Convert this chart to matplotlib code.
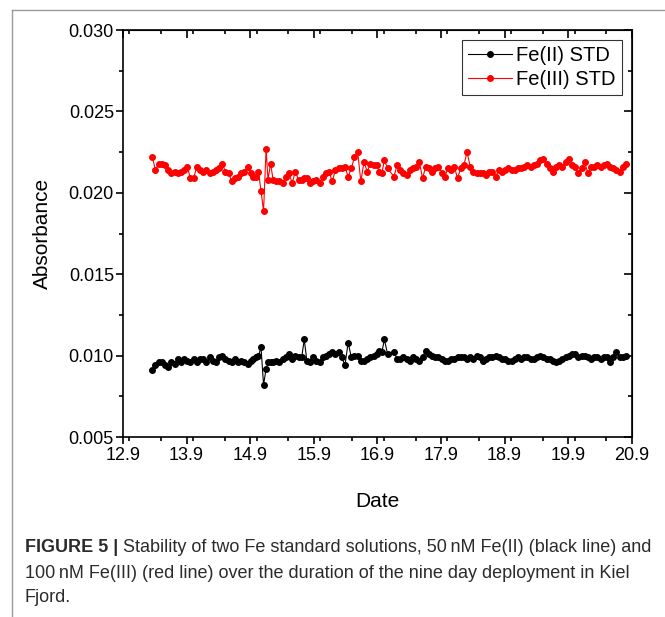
import matplotlib.pyplot as plt
from matplotlib.lines import Line2D
from matplotlib.ticker import MultipleLocator, FormatStrFormatter
from matplotlib.transforms import offset_copy

plt.rcParams['font.family'] = ['Liberation Sans', 'DejaVu Sans']

# dias de medicao (eixo x)
dates = [13.36, 13.41, 13.46, 13.51, 13.56, 13.61, 13.66, 13.71, 13.76, 13.81,
         13.86, 13.91, 13.96, 14.01, 14.06, 14.11, 14.16, 14.21, 14.26, 14.31,
         14.36, 14.41, 14.46, 14.51, 14.56, 14.61, 14.66, 14.71, 14.76, 14.81,
         14.86, 14.91, 14.95, 14.99, 15.03, 15.07, 15.11, 15.15, 15.18, 15.22,
         15.26, 15.31, 15.36, 15.41, 15.46, 15.51, 15.56, 15.61, 15.66, 15.71,
         15.75, 15.79, 15.84, 15.89, 15.94, 15.99, 16.04, 16.09, 16.14, 16.19,
         16.24, 16.29, 16.34, 16.39, 16.44, 16.49, 16.54, 16.59, 16.64, 16.69,
         16.74, 16.79, 16.84, 16.89, 16.93, 16.97, 17.01, 17.06, 17.16, 17.21,
         17.26, 17.31, 17.36, 17.41, 17.46, 17.51, 17.56, 17.61, 17.66, 17.71,
         17.76, 17.81, 17.86, 17.91, 17.96, 18.01, 18.06, 18.11, 18.16, 18.21,
         18.26, 18.31, 18.36, 18.41, 18.46, 18.51, 18.56, 18.61, 18.66, 18.71,
         18.76, 18.81, 18.86, 18.91, 18.96, 19.01, 19.06, 19.11, 19.16, 19.21,
         19.26, 19.31, 19.36, 19.41, 19.46, 19.51, 19.56, 19.61, 19.66, 19.71,
         19.76, 19.81, 19.86, 19.91, 19.96, 20.01, 20.06, 20.11, 20.16, 20.21,
         20.26, 20.31, 20.36, 20.41, 20.46, 20.51, 20.56, 20.61, 20.66, 20.71,
         20.76, 20.81]

# Fe(II) STD - 50 nM
fe2 = [0.0091, 0.0094, 0.0096, 0.0096, 0.0094, 0.0093, 0.0096, 0.0095, 0.0098, 0.0096,
       0.0098, 0.0097, 0.0096, 0.0098, 0.0096, 0.0098, 0.0098, 0.0096, 0.0099, 0.0097,
       0.0096, 0.0099, 0.0100, 0.0098, 0.0097, 0.0096, 0.0098, 0.0096, 0.0097, 0.0096,
       0.0095, 0.0097, 0.0098, 0.0099, 0.0100, 0.0105, 0.0082, 0.0092, 0.0096, 0.0096,
       0.0096, 0.0097, 0.0096, 0.0098, 0.0099, 0.0101, 0.0098, 0.0100, 0.0099, 0.0099,
       0.0110, 0.0097, 0.0096, 0.0099, 0.0097, 0.0096, 0.0099, 0.0100, 0.0101, 0.0102,
       0.0101, 0.0102, 0.0099, 0.0094, 0.0108, 0.0099, 0.0100, 0.0100, 0.0097, 0.0097,
       0.0098, 0.0099, 0.0100, 0.0101, 0.0103, 0.0102, 0.0110, 0.0101, 0.0102, 0.0098,
       0.0098, 0.0099, 0.0098, 0.0097, 0.0099, 0.0098, 0.0097, 0.0099, 0.0103, 0.0101,
       0.0100, 0.0099, 0.0099, 0.0098, 0.0097, 0.0097, 0.0098, 0.0098, 0.0099, 0.0099,
       0.0099, 0.0098, 0.0099, 0.0098, 0.0100, 0.0099, 0.0097, 0.0098, 0.0099, 0.0099,
       0.0100, 0.0099, 0.0098, 0.0098, 0.0097, 0.0097, 0.0098, 0.0099, 0.0098, 0.0099,
       0.0099, 0.0098, 0.0098, 0.0099, 0.0100, 0.0099, 0.0098, 0.0098, 0.0097, 0.0096,
       0.0097, 0.0098, 0.0099, 0.0100, 0.0101, 0.0101, 0.0099, 0.0100, 0.0100, 0.0099,
       0.0098, 0.0099, 0.0099, 0.0098, 0.0099, 0.0099, 0.0096, 0.0099, 0.0102, 0.0099,
       0.0099, 0.0100]

# Fe(III) STD - 100 nM
fe3 = [0.0222, 0.0214, 0.0218, 0.0218, 0.0217, 0.0214, 0.0212, 0.0213, 0.0212, 0.0213,
       0.0214, 0.0216, 0.0209, 0.0209, 0.0216, 0.0214, 0.0213, 0.0214, 0.0212, 0.0213,
       0.0214, 0.0215, 0.0218, 0.0213, 0.0212, 0.0207, 0.0209, 0.0210, 0.0212, 0.0213,
       0.0216, 0.0212, 0.0210, 0.0210, 0.0213, 0.0201, 0.0189, 0.0227, 0.0208, 0.0218,
       0.0208, 0.0207, 0.0207, 0.0206, 0.0210, 0.0212, 0.0206, 0.0213, 0.0208, 0.0208,
       0.0209, 0.0209, 0.0206, 0.0207, 0.0208, 0.0206, 0.0210, 0.0212, 0.0213, 0.0207,
       0.0214, 0.0215, 0.0215, 0.0216, 0.0210, 0.0215, 0.0222, 0.0225, 0.0207, 0.0219,
       0.0213, 0.0218, 0.0217, 0.0217, 0.0213, 0.0212, 0.0220, 0.0215, 0.0210, 0.0217,
       0.0214, 0.0212, 0.0211, 0.0214, 0.0215, 0.0216, 0.0219, 0.0209, 0.0216, 0.0215,
       0.0213, 0.0215, 0.0216, 0.0212, 0.0210, 0.0215, 0.0214, 0.0216, 0.0209, 0.0215,
       0.0217, 0.0225, 0.0216, 0.0213, 0.0212, 0.0212, 0.0212, 0.0211, 0.0213, 0.0213,
       0.0210, 0.0214, 0.0213, 0.0214, 0.0215, 0.0214, 0.0214, 0.0215, 0.0215, 0.0216,
       0.0217, 0.0216, 0.0217, 0.0218, 0.0220, 0.0221, 0.0218, 0.0215, 0.0213, 0.0216,
       0.0217, 0.0216, 0.0219, 0.0221, 0.0217, 0.0216, 0.0212, 0.0215, 0.0219, 0.0212,
       0.0216, 0.0216, 0.0217, 0.0216, 0.0217, 0.0218, 0.0216, 0.0215, 0.0214, 0.0213,
       0.0216, 0.0218]

x_ticks = [12.9, 13.9, 14.9, 15.9, 16.9, 17.9, 18.9, 19.9, 20.9]

caption = ["Stability of two Fe standard solutions, 50\u2009nM Fe(II) (black line) and",
           "100\u2009nM Fe(III) (red line) over the duration of the nine day deployment in Kiel",
           "Fjord."]

fig = plt.figure(figsize=(6.65, 6.17), dpi=100)
ax = fig.add_axes([0.185, 0.2917, 0.765, 0.6596])

ax.plot(dates, fe2, color='black', lw=0.8, marker='o', ms=4, label='Fe(II) STD')
ax.plot(dates, fe3, color='red', lw=0.8, marker='o', ms=4, label='Fe(III) STD')

ax.set_xlim(12.9, 20.9)
ax.set_ylim(0.005, 0.030)
ax.set_xticks(x_ticks)
ax.xaxis.set_minor_locator(MultipleLocator(0.5))
ax.yaxis.set_major_locator(MultipleLocator(0.005))
ax.yaxis.set_minor_locator(MultipleLocator(0.0025))
ax.yaxis.set_major_formatter(FormatStrFormatter('%.3f'))
ax.xaxis.set_major_formatter(FormatStrFormatter('%.1f'))

for s in ax.spines.values():
    s.set_linewidth(1.2)

ax.tick_params(which='both', direction='out', top=False, right=False, labelsize=13, width=1.2)
ax.tick_params(which='major', length=5)
ax.tick_params(which='minor', length=3)
ax.tick_params(axis='y', pad=1.5)
ax.tick_params(axis='x', pad=2.5)

# ticks para dentro no topo e na direita
ax2 = ax.secondary_xaxis('top')
ax2.set_xticks(x_ticks)
ax2.xaxis.set_minor_locator(MultipleLocator(0.5))
ax2.tick_params(which='both', direction='in', labeltop=False, width=1.2)
ax2.tick_params(which='major', length=6)
ax2.tick_params(which='minor', length=3)
ax3 = ax.secondary_yaxis('right')
ax3.yaxis.set_major_locator(MultipleLocator(0.005))
ax3.yaxis.set_minor_locator(MultipleLocator(0.0025))
ax3.tick_params(which='both', direction='in', labelright=False, width=1.2)
ax3.tick_params(which='major', length=6)
ax3.tick_params(which='minor', length=3)

ax.set_xlabel('Date', fontsize=15, labelpad=20)
ax.set_ylabel('Absorbance', fontsize=15, labelpad=12)

leg = ax.legend(loc='upper right', fontsize=14.5, frameon=True, fancybox=False,
                handlelength=2.2, handletextpad=0.2, borderpad=0.3,
                labelspacing=0.25, borderaxespad=0.5)
leg.get_frame().set_edgecolor('black')
leg.get_frame().set_linewidth(0.8)

# moldura cinza da figura
fig.add_artist(Line2D([12/665, 1.0], [1 - 10/617, 1 - 10/617], color='#9a9a9a', lw=1.0))
fig.add_artist(Line2D([12/665, 12/665], [0.0, 1 - 10/617], color='#9a9a9a', lw=1.0))

# legenda da figura
cap_color = '#2b2b2b'
t0 = fig.text(25/665, 1 - 548/617, "FIGURE 5 |", fontsize=13, fontweight='bold',
              color=cap_color, va='center')
r = fig.canvas.get_renderer()
w0 = t0.get_window_extent(renderer=r).width
fig.text(25/665, 1 - 548/617, caption[0], fontsize=13, color=cap_color, va='center',
         transform=offset_copy(fig.transFigure, fig=fig, x=w0 + 5, units='dots'))
fig.text(25/665, 1 - 573/617, caption[1], fontsize=13, color=cap_color, va='center')
fig.text(25/665, 1 - 598/617, caption[2], fontsize=13, color=cap_color, va='center')

plt.savefig('out.png', dpi=100)
